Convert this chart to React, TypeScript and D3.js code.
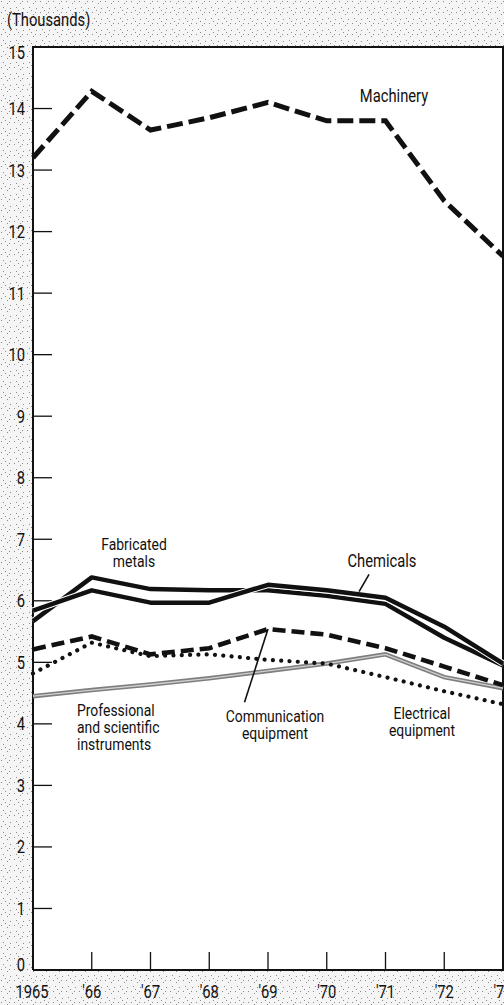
import React, { useEffect, useRef } from 'react';
import * as d3 from 'd3';

const years = [1965, 1966, 1967, 1968, 1969, 1970, 1971, 1972, 1973];
const yearLabels = ['1965', "'66", "'67", "'68", "'69", "'70", "'71", "'72", "'73"];
const yTicks = [0, 1, 2, 3, 4, 5, 6, 7, 8, 9, 10, 11, 12, 13, 14, 15];

const machinery = [13.2, 14.28, 13.65, 13.85, 14.1, 13.8, 13.8, 12.5, 11.6];
const fabricatedMetals = [5.67, 6.38, 6.19, 6.17, 6.17, 6.08, 5.95, 5.4, 4.95];
const chemicals = [5.84, 6.17, 5.97, 5.97, 6.26, 6.17, 6.05, 5.58, 4.98];
const communication = [5.21, 5.42, 5.13, 5.23, 5.54, 5.45, 5.23, 4.93, 4.63];
const electrical = [4.82, 5.32, 5.1, 5.13, 5.04, 4.98, 4.76, 4.53, 4.32];
const instruments = [4.45, 4.55, 4.64, 4.74, 4.86, 4.98, 5.13, 4.76, 4.58];

const FONT = "Roboto, 'Liberation Sans', sans-serif";
const SQUEEZE = 0.82; // fake a condensed face

export default function App() {
  const svgRef = useRef<SVGSVGElement>(null);

  useEffect(() => {
    if (!svgRef.current) return;
    const svg = d3.select(svgRef.current);
    svg.selectAll('*').remove();

    const width = 504;
    const height = 1005;
    const left = 33;
    const right = 503;
    const top = 47;
    const bottom = 970;

    const x = d3.scaleLinear().domain([1965, 1973]).range([left, right]);
    const y = d3.scaleLinear().domain([0, 15]).range([bottom, top]);

    // speckled paper background
    const defs = svg.append('defs');
    const pat = defs.append('pattern')
      .attr('id', 'speckle')
      .attr('width', 13)
      .attr('height', 11)
      .attr('patternUnits', 'userSpaceOnUse');
    pat.append('rect').attr('width', 13).attr('height', 11).attr('fill', '#f5f5f5');
    [[1, 1], [7, 3], [3, 7], [10, 8], [9, 1], [5, 10]].forEach(([px, py]) => {
      pat.append('rect')
        .attr('x', px).attr('y', py)
        .attr('width', 1).attr('height', 1)
        .attr('fill', '#8a8a8a');
    });

    svg.append('rect')
      .attr('width', width)
      .attr('height', height)
      .attr('fill', 'url(#speckle)');

    svg.append('rect')
      .attr('x', left)
      .attr('y', top)
      .attr('width', right - left)
      .attr('height', bottom - top)
      .attr('fill', '#fff');

    // frame
    svg.append('path')
      .attr('d', `M${left},${bottom}V${top}H${right}V${bottom}H${left}`)
      .attr('fill', 'none')
      .attr('stroke', '#111')
      .attr('stroke-width', 2);

    // condensed text helper
    const label = (lines: string[], lx: number, ly: number, anchor: string, size = 17) => {
      const g = svg.append('g')
        .attr('transform', `translate(${lx},${ly}) scale(${SQUEEZE},1)`);
      const t = g.append('text')
        .attr('text-anchor', anchor)
        .style('font-family', FONT)
        .style('font-size', `${size}px`)
        .attr('fill', '#111');
      lines.forEach((s, i) => {
        t.append('tspan')
          .attr('x', 0)
          .attr('y', i * 17)
          .text(s);
      });
    };

    label(['(Thousands)'], 7, 26, 'start', 18);

    // y ticks
    svg.append('g')
      .selectAll('line')
      .data(yTicks.filter(d => d > 0 && d < 15))
      .enter()
      .append('line')
      .attr('x1', left)
      .attr('x2', left + 19)
      .attr('y1', d => y(d))
      .attr('y2', d => y(d))
      .attr('stroke', '#111')
      .attr('stroke-width', 1.3);
    yTicks.forEach(d => {
      const ty = d === 15 ? y(d) + 5 : d === 0 ? y(d) - 6 : y(d);
      label([String(d)], 25, ty + 6.5, 'end', 18);
    });

    // x ticks
    svg.append('g')
      .selectAll('line')
      .data(years.slice(1, -1))
      .enter()
      .append('line')
      .attr('x1', d => x(d))
      .attr('x2', d => x(d))
      .attr('y1', bottom)
      .attr('y2', bottom - 18)
      .attr('stroke', '#111')
      .attr('stroke-width', 1.3);
    years.forEach((d, i) => {
      label([yearLabels[i]], i === 0 ? x(d) - 1 : x(d), 998, 'middle', 18);
    });

    const line = d3.line<number>()
      .x((d, i) => x(years[i]))
      .y(d => y(d));

    const plot = svg.append('g');

    // professional and scientific instruments: grey double line
    plot.append('path')
      .attr('d', line(instruments))
      .attr('fill', 'none')
      .attr('stroke', '#7e7e7e')
      .attr('stroke-width', 4.5);
    plot.append('path')
      .attr('d', line(instruments))
      .attr('fill', 'none')
      .attr('stroke', '#d0d0d0')
      .attr('stroke-width', 1.3);

    // electrical equipment: dotted
    plot.append('path')
      .attr('d', line(electrical))
      .attr('fill', 'none')
      .attr('stroke', '#111')
      .attr('stroke-width', 4.2)
      .attr('stroke-linecap', 'round')
      .attr('stroke-dasharray', '0.01 8.3');

    // communication equipment: dashed
    plot.append('path')
      .attr('d', line(communication))
      .attr('fill', 'none')
      .attr('stroke', '#111')
      .attr('stroke-width', 4.6)
      .attr('stroke-dasharray', '13 6');

    // solid lines with a thin white edge so they separate where they touch
    [fabricatedMetals, chemicals].forEach(series => {
      plot.append('path')
        .attr('d', line(series))
        .attr('fill', 'none')
        .attr('stroke', '#fff')
        .attr('stroke-width', 6.5)
        .attr('stroke-linejoin', 'round');
      plot.append('path')
        .attr('d', line(series))
        .attr('fill', 'none')
        .attr('stroke', '#111')
        .attr('stroke-width', 4.5)
        .attr('stroke-linejoin', 'round');
    });

    // machinery: long dashes
    plot.append('path')
      .attr('d', line(machinery))
      .attr('fill', 'none')
      .attr('stroke', '#111')
      .attr('stroke-width', 5)
      .attr('stroke-dasharray', '16 6');

    // series labels
    label(['Machinery'], 394, 102, 'middle', 18);
    label(['Fabricated', 'metals'], 134, 550, 'middle');
    label(['Chemicals'], 382, 567, 'middle', 18);
    label(['Professional', 'and scientific', 'instruments'], 77, 716, 'start');
    label(['Communication', 'equipment'], 275, 722, 'middle');
    label(['Electrical', 'equipment'], 422, 719, 'middle');

    // pointer lines
    svg.append('line')
      .attr('x1', x(1970.72)).attr('y1', y(6.43))
      .attr('x2', x(1970.55)).attr('y2', y(6.15))
      .attr('stroke', '#111')
      .attr('stroke-width', 1.6);
    svg.append('line')
      .attr('x1', x(1968.6)).attr('y1', y(4.35))
      .attr('x2', x(1969)).attr('y2', y(communication[4]))
      .attr('stroke', '#111')
      .attr('stroke-width', 1.6);
  }, []);

  return (
    <svg
      ref={svgRef}
      width={504}
      height={1005}
      style={{ position: 'absolute', left: 0, top: 0, display: 'block' }}
    />
  );
}
